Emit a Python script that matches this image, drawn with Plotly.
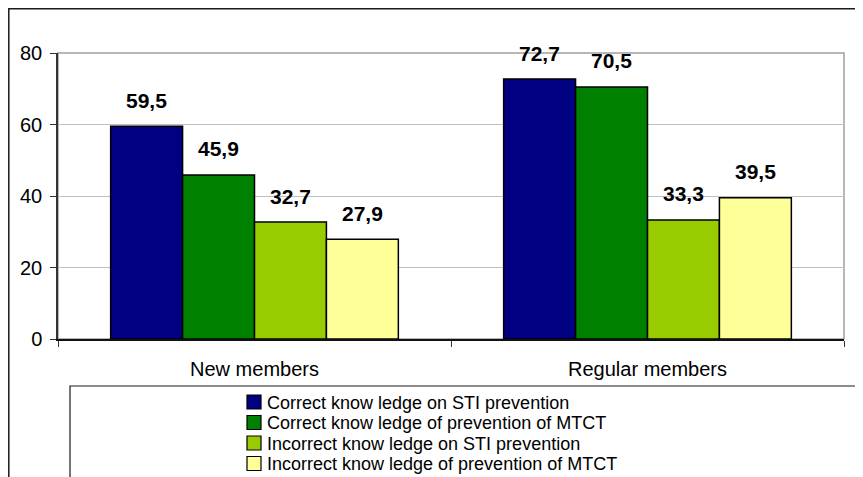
import plotly.graph_objects as go

# ---- data ----
categories = ["New members", "Regular members"]
series_names = [
    "Correct know ledge on STI prevention",
    "Correct know ledge of prevention of MTCT",
    "Incorrect know ledge on STI prevention",
    "Incorrect know ledge of prevention of MTCT",
]
correct_sti = [59.5, 72.7]
correct_mtct = [45.9, 70.5]
incorrect_sti = [32.7, 33.3]
incorrect_mtct = [27.9, 39.5]
series_values = [correct_sti, correct_mtct, incorrect_sti, incorrect_mtct]
colors = ["#000080", "#008000", "#99CC00", "#FFFF99"]
y_ticks = [0, 20, 40, 60, 80]

FONT = "Arial, 'Liberation Sans', sans-serif"
OFF = 8  # default page body margin
W, H = 863 - OFF, 477 - OFF
# plot area in page pixels
L, R, T, B = 58, 844, 53, 339


def px(x):
    return (x - L) / (R - L)


def py(y):
    return (B - y) / (B - T)


fig = go.Figure()
for name, vals, col in zip(series_names, series_values, colors):
    fig.add_trace(go.Bar(
        x=categories, y=vals, name=name,
        marker=dict(color=col, line=dict(color="black", width=1.5)),
        showlegend=False,
    ))

# value labels above bars
bar_w = 72
offsets = [-1.5 * bar_w, -0.5 * bar_w, 0.5 * bar_w, 1.5 * bar_w]
annotations = []
for vals, off in zip(series_values, offsets):
    for cat, v in zip(categories, vals):
        annotations.append(dict(
            x=cat, y=v, xref="x", yref="y", xshift=off, yshift=26,
            text=f"<b>{str(v).replace('.', ',')}</b>", showarrow=False,
            font=dict(family=FONT, size=21, color="black"),
            xanchor="center", yanchor="middle",
        ))

shapes = []
# plot area border (gray)
shapes.append(dict(type="rect", xref="paper", yref="paper", x0=0, y0=0, x1=1, y1=1,
                   line=dict(color="#A0A0A0", width=1.5), layer="below"))
# outer chart border
shapes.append(dict(type="rect", xref="paper", yref="paper",
                   x0=px(8.8), y0=py(495), x1=px(875), y1=py(8.8),
                   line=dict(color="#1a1a1a", width=1.5)))
# legend box
shapes.append(dict(type="rect", xref="paper", yref="paper",
                   x0=px(70), y0=py(495), x1=px(857), y1=py(386),
                   line=dict(color="#1a1a1a", width=1.2)))
# legend entries
y0_leg, step = 402, 20.5
for i, (name, col) in enumerate(zip(series_names, colors)):
    cy = y0_leg + i * step
    shapes.append(dict(type="rect", xref="paper", yref="paper",
                       x0=px(247), x1=px(261), y0=py(cy + 7), y1=py(cy - 7),
                       fillcolor=col, line=dict(color="black", width=1.2)))
    annotations.append(dict(
        x=px(266), y=py(cy + 0.5), xref="paper", yref="paper", text=name,
        showarrow=False, xanchor="left", yanchor="middle", borderpad=0,
        font=dict(family=FONT, size=18, color="black"),
    ))

fig.update_layout(
    width=W, height=H,
    margin=dict(l=L - OFF, r=863 - R, t=T - OFF, b=477 - B, pad=0),
    paper_bgcolor="white", plot_bgcolor="white",
    barmode="group", bargap=0.268, bargroupgap=0,
    font=dict(family=FONT, size=20, color="black"),
    annotations=annotations, shapes=shapes,
    showlegend=False,
)
fig.update_yaxes(
    range=[0, 80], tickvals=y_ticks, ticks="outside", ticklen=6, tickcolor="#333",
    showline=True, linecolor="#333", linewidth=1.5,
    showgrid=True, gridcolor="#C0C0C0", gridwidth=1, zeroline=False,
    tickfont=dict(size=20), ticklabelstandoff=4,
)
fig.update_xaxes(
    tickson="boundaries", ticks="outside", ticklen=6, tickcolor="#333",
    showline=True, linecolor="#111", linewidth=1.5,
    tickfont=dict(size=20), ticklabelstandoff=11,
)

fig.write_html("out.html")
